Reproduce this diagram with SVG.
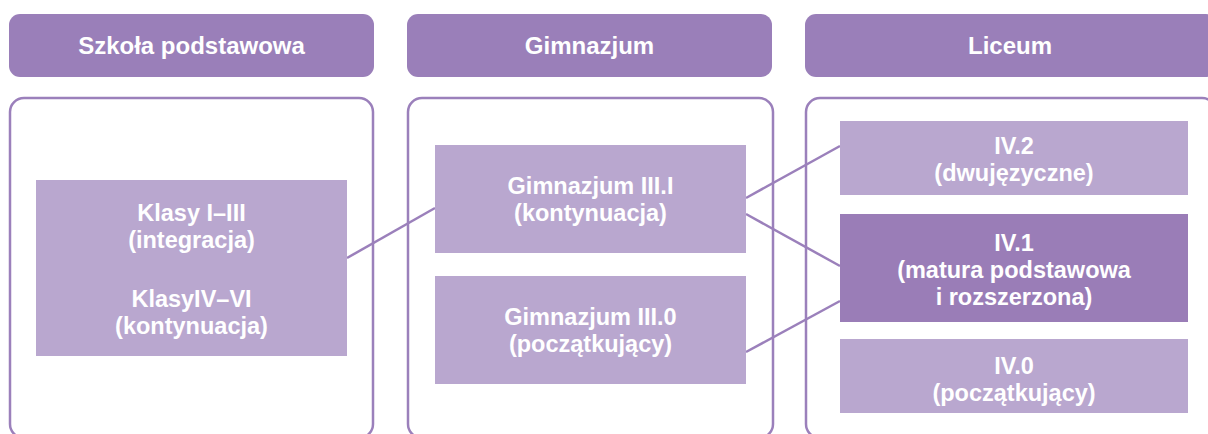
<svg xmlns="http://www.w3.org/2000/svg" width="1208" height="434" viewBox="0 0 1208 434">
<style>
.hdr{fill:#9a7fb9}
.frame{fill:#fff;stroke:#9b80bb;stroke-width:2.5}
.lt{fill:#b9a7cf}
.dk{fill:#9a7db7}
text{font-family:"Liberation Sans",Arial,sans-serif;font-weight:700;fill:#fff;text-anchor:middle;font-size:23.5px}
.h{font-size:24px}
.conn line{stroke:#9b80bb;stroke-width:2.5}
</style>
<rect width="1208" height="434" fill="#fff"/>
<g id="hdr-szkola"><rect class="hdr" x="9" y="14" width="365" height="63" rx="11"/><text class="h" x="191.5" y="54">Szkoła podstawowa</text></g>
<g id="hdr-gimnazjum"><rect class="hdr" x="407" y="14" width="365" height="63" rx="11"/><text class="h" x="589.5" y="54">Gimnazjum</text></g>
<g id="hdr-liceum"><rect class="hdr" x="805" y="14" width="412" height="63" rx="11"/><text class="h" x="1010" y="54">Liceum</text></g>
<g id="frame-szkola"><rect class="frame" x="10" y="98" width="363" height="340" rx="14"/></g>
<g id="frame-gimnazjum"><rect class="frame" x="408" y="98" width="365" height="340" rx="14"/></g>
<g id="frame-liceum"><rect class="frame" x="806" y="98" width="410" height="340" rx="14"/></g>
<g class="conn" id="connectors">
<line x1="347" y1="258" x2="435" y2="208"/>
<line x1="746" y1="198" x2="840" y2="146"/>
<line x1="746" y1="214" x2="840" y2="266"/>
<line x1="746" y1="352" x2="840" y2="301"/>
</g>
<g id="klasy"><rect class="lt" x="36" y="180" width="311" height="176"/>
<text x="191.5" y="221">Klasy I–III</text><text x="191.5" y="248">(integracja)</text>
<text x="191.5" y="307">KlasyIV–VI</text><text x="191.5" y="334">(kontynuacja)</text></g>
<g id="gim-31"><rect class="lt" x="435" y="145" width="311" height="108"/>
<text x="590.5" y="194">Gimnazjum III.I</text><text x="590.5" y="221">(kontynuacja)</text></g>
<g id="gim-30"><rect class="lt" x="435" y="276" width="311" height="108"/>
<text x="590.5" y="325">Gimnazjum III.0</text><text x="590.5" y="352">(początkujący)</text></g>
<g id="iv2"><rect class="lt" x="840" y="121" width="348" height="74"/>
<text x="1014" y="154">IV.2</text><text x="1014" y="181">(dwujęzyczne)</text></g>
<g id="iv1"><rect class="dk" x="840" y="214" width="348" height="108"/>
<text x="1014" y="251">IV.1</text><text x="1014" y="278">(matura podstawowa</text><text x="1014" y="305">i rozszerzona)</text></g>
<g id="iv0"><rect class="lt" x="840" y="339" width="348" height="74"/>
<text x="1014" y="374">IV.0</text><text x="1014" y="401">(początkujący)</text></g>
</svg>
